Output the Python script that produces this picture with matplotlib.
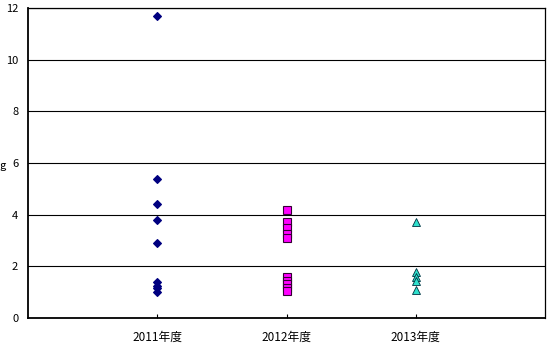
import matplotlib
matplotlib.use("Agg")
import matplotlib.pyplot as plt

plt.rcParams['font.family'] = ['Noto Sans CJK JP', 'DejaVu Sans']

categories = ["2011年度", "2012年度", "2013年度"]
vals_2011 = [11.7, 5.4, 4.4, 3.8, 2.9, 1.4, 1.25, 1.15, 1.0]
vals_2012 = [4.2, 3.7, 3.5, 3.25, 3.1, 1.6, 1.45, 1.3, 1.15, 1.05]
vals_2013 = [3.7, 1.8, 1.6, 1.45, 1.1]
yticks = [0, 2, 4, 6, 8, 10, 12]

fig = plt.figure(figsize=(5.59, 3.56), dpi=100)
ax = fig.add_axes([28/559, 1 - 318/356, 517/559, 310/356])

series = [
    (vals_2011, 'D', '#000080', '#000080', 4.5, 0.8),
    (vals_2012, 's', '#FF00FF', '#330033', 6, 0.8),
    (vals_2013, '^', '#2EE0CC', '#003040', 5.5, 0.6),
]
for i, (vals, m, fc, ec, ms, mew) in enumerate(series):
    ax.plot([i + 1] * len(vals), vals, linestyle='none', marker=m,
            markerfacecolor=fc, markeredgecolor=ec, markersize=ms,
            markeredgewidth=mew, zorder=3)

ax.set_xlim(0, 4)
ax.set_ylim(0, 12)
ax.set_yticks(yticks)
ax.set_yticklabels([str(v) for v in yticks], fontsize=8)
ax.set_xticks([1, 2, 3])
ax.set_xticklabels(categories, fontsize=8.5)
ax.tick_params(axis='x', direction='in', length=3, pad=9)
ax.tick_params(axis='y', length=0, pad=7)
ax.yaxis.grid(True, color='black', linewidth=0.8)
ax.set_axisbelow(True)
for s in ax.spines.values():
    s.set_color('black')
    s.set_linewidth(0.9)
ax.spines['bottom'].set_linewidth(1.3)
ax.spines['left'].set_linewidth(1.3)

fig.text(3/559, 1 - 166/356, "g", fontsize=8, va='center', ha='center')

fig.savefig("out.png", dpi=100)
